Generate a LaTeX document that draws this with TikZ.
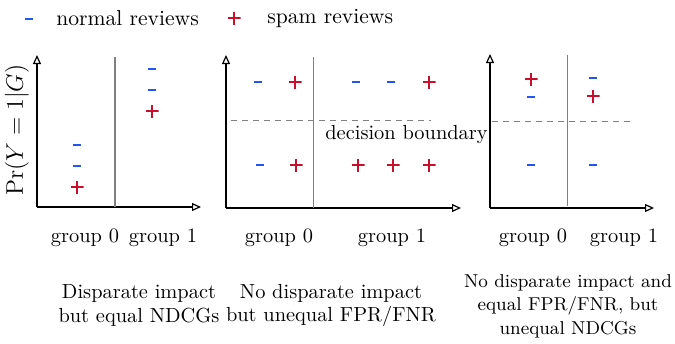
\documentclass[tikz,border=0pt]{standalone}
\usetikzlibrary{arrows.meta}
\definecolor{negblue}{RGB}{35,85,245}
\definecolor{posred}{RGB}{200,15,45}
\tikzset{
  axis/.style={line width=0.6pt, -{Triangle[open,length=4.5pt,width=4pt]}},
  divider/.style={gray, line width=0.5pt},
  thickdiv/.style={gray, line width=1.2pt},
  boundary/.style={gray, dash pattern=on 3pt off 2.5pt, line width=0.5pt},
  negmark/.style={inner sep=0pt, minimum width=4pt, minimum height=1.4pt, fill=negblue},
  posmark/.style={inner sep=0pt, minimum size=6.5pt, path picture={\draw[posred,line width=0.7pt] (path picture bounding box.north) -- (path picture bounding box.south) (path picture bounding box.west) -- (path picture bounding box.east);}},
  lbl/.style={font=\fontsize{10.8}{12}\selectfont, inner sep=0pt},
  grplbl/.style={font=\fontsize{10.2}{12}\selectfont, inner sep=0pt},
  captext/.style={font=\fontsize{10.2}{11.8}\selectfont, align=center, inner sep=0pt},
  captextsmall/.style={font=\fontsize{9.3}{11.8}\selectfont, align=center, inner sep=0pt},
}
\begin{document}
\begin{tikzpicture}[x=0.5pt,y=-0.5pt]
\useasboundingbox (0,0) rectangle (675,343);
% legend
\node[negmark] (lgneg) at (29,19) {};
\node[lbl, anchor=west] (lgnegtxt) at (56,18) {normal reviews};
\node[posmark] (lgpos) at (234,18) {};
\node[lbl, anchor=west] (lgpostxt) at (267,18) {spam reviews};

% ---------- panel 1
\coordinate (o1) at (37,207);
\coordinate (y1) at (37,55);
\coordinate (x1) at (201,207);
\draw[axis] (o1) -- (y1);
\draw[axis] (o1) -- (x1);
\coordinate (d1t) at (115,57);
\coordinate (d1b) at (115,207);
\draw[thickdiv] (d1t) -- (d1b);
\node[negmark] (p1a) at (77,145) {};
\node[negmark] (p1b) at (77,166) {};
\node[posmark] (p1c) at (77,187) {};
\node[negmark] (p1d) at (152,69) {};
\node[negmark] (p1e) at (152,90) {};
\node[posmark] (p1f) at (152,111) {};
\node[rotate=90, inner sep=0pt, font=\fontsize{12.5}{14}\selectfont] (ylab) at (17,130) {$\Pr(Y=1|G)$};
\node[grplbl] (g10) at (85,238) {group 0};
\node[grplbl] (g11) at (163,238) {group 1};
\node[captext] (c1) at (139,305.5) {Disparate impact\\but equal NDCGs};

% ---------- panel 2
\coordinate (o2) at (226,208);
\coordinate (y2) at (226,55);
\coordinate (x2) at (461,208);
\draw[axis] (o2) -- (y2);
\draw[axis] (o2) -- (x2);
\coordinate (d2t) at (313,57);
\coordinate (d2b) at (313,208);
\draw[divider] (d2t) -- (d2b);
\coordinate (b2l) at (231,120);
\coordinate (b2r) at (431,120);
\draw[boundary] (b2l) -- (b2r);
\node[grplbl, anchor=west] (db) at (325,135) {decision boundary};
\node[negmark] (q1) at (258,82) {};
\node[posmark] (q2) at (295,82) {};
\node[negmark] (q3) at (356,82) {};
\node[negmark] (q4) at (391,82) {};
\node[posmark] (q5) at (429,82) {};
\node[negmark] (q6) at (260,165) {};
\node[posmark] (q7) at (296,165) {};
\node[posmark] (q8) at (358,165) {};
\node[posmark] (q9) at (393,165) {};
\node[posmark] (q10) at (429,165) {};
\node[grplbl] (g20) at (279,238) {group 0};
\node[grplbl] (g21) at (392,238) {group 1};
\node[captext] (c2) at (331,305.5) {No disparate impact\\but unequal FPR/FNR};

% ---------- panel 3
\coordinate (o3) at (490,208);
\coordinate (y3) at (490,54);
\coordinate (x3) at (654,208);
\draw[axis] (o3) -- (y3);
\draw[axis] (o3) -- (x3);
\coordinate (d3t) at (567,55);
\coordinate (d3b) at (567,206);
\draw[divider] (d3t) -- (d3b);
\coordinate (b3l) at (492,121);
\coordinate (b3r) at (634,121);
\draw[boundary] (b3l) -- (b3r);
\node[posmark] (r1) at (531,79) {};
\node[negmark] (r2) at (531,97) {};
\node[negmark] (r3) at (531,165) {};
\node[negmark] (r4) at (593,78) {};
\node[posmark] (r5) at (593,96) {};
\node[negmark] (r6) at (593,165) {};
\node[grplbl] (g30) at (533,238) {group 0};
\node[grplbl] (g31) at (624,238) {group 1};
\node[captextsmall] (c3) at (568,306) {No disparate impact and\\equal FPR/FNR, but\\unequal NDCGs};
\end{tikzpicture}
\end{document}
